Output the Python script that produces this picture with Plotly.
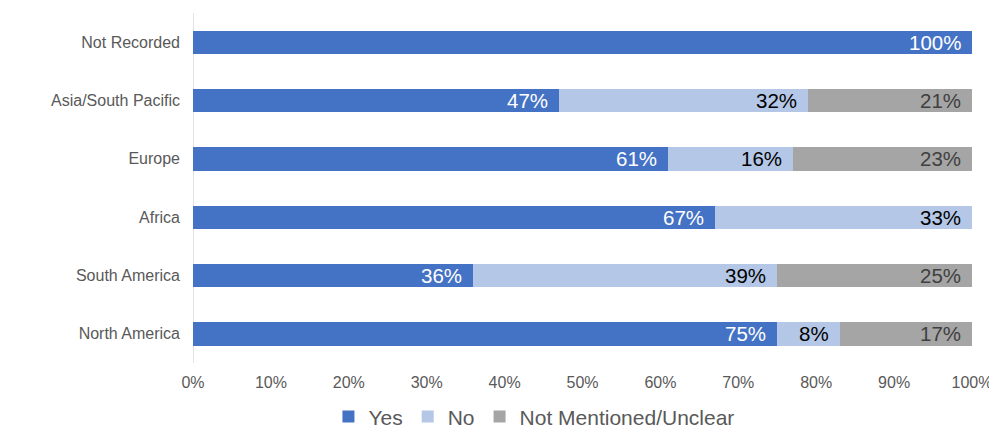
import plotly.graph_objects as go

categories = ["North America", "South America", "Africa", "Europe", "Asia/South Pacific", "Not Recorded"]
yes = [75, 36, 67, 61, 47, 100]
no = [8, 39, 33, 16, 32, 0]
unclear = [17, 25, 0, 23, 21, 0]
series_names = ["Yes", "No", "Not Mentioned/Unclear"]
colors = ["#4472C4", "#B4C7E7", "#A5A5A5"]
label_colors = ["#FFFFFF", "#000000", "#404040"]
tick_vals = [0, 10, 20, 30, 40, 50, 60, 70, 80, 90, 100]
tick_text = [f"{v}%" for v in tick_vals]

FONT = "Liberation Sans, Arial, sans-serif"

fig = go.Figure()
series = [yes, no, unclear]
for name, vals, col in zip(series_names, series, colors):
    fig.add_trace(go.Bar(
        y=categories, x=vals, name=name, orientation="h",
        marker=dict(color=col, line=dict(width=0)),
        width=0.4, hoverinfo="x+y+name",
    ))

annotations = []
cum = [0] * len(categories)
for vals, lc in zip(series, label_colors):
    for i, v in enumerate(vals):
        cum[i] += v
        if v > 0:
            annotations.append(dict(
                x=cum[i], y=categories[i], xref="x", yref="y",
                text=f"{v}%", showarrow=False, xanchor="right", xshift=-9,
                font=dict(size=20.5, color=lc, family=FONT),
            ))

fig.update_layout(
    barmode="stack",
    width=989, height=425,
    margin=dict(l=185, r=25, t=5, b=70, autoexpand=False),
    paper_bgcolor="white", plot_bgcolor="white",
    font=dict(family=FONT, color="#595959", size=16),
    annotations=annotations,
    bargap=0.6,
    legend=dict(
        orientation="h", xref="container", yref="container",
        x=0.324, xanchor="left", y=0.038, yanchor="middle",
        font=dict(size=21, color="#595959", family=FONT),
        traceorder="normal", itemwidth=30,
    ),
    xaxis=dict(
        range=[0, 100], tickvals=tick_vals, ticktext=tick_text,
        showgrid=False, zeroline=False, showline=False, automargin=False,
        tickfont=dict(size=16, color="#595959"), ticks="", ticklabelstandoff=8,
    ),
    yaxis=dict(
        showgrid=False, zeroline=False, showline=False, automargin=False,
        tickfont=dict(size=16, color="#595959"), ticks="",
        range=[-0.5, 5.5], ticklabelstandoff=12,
    ),
    shapes=[dict(type="line", xref="x", yref="paper", x0=0, x1=0, y0=0, y1=1,
                 line=dict(color="#D9D9D9", width=1.5), layer="below")],
)

fig.write_html("out.html")
